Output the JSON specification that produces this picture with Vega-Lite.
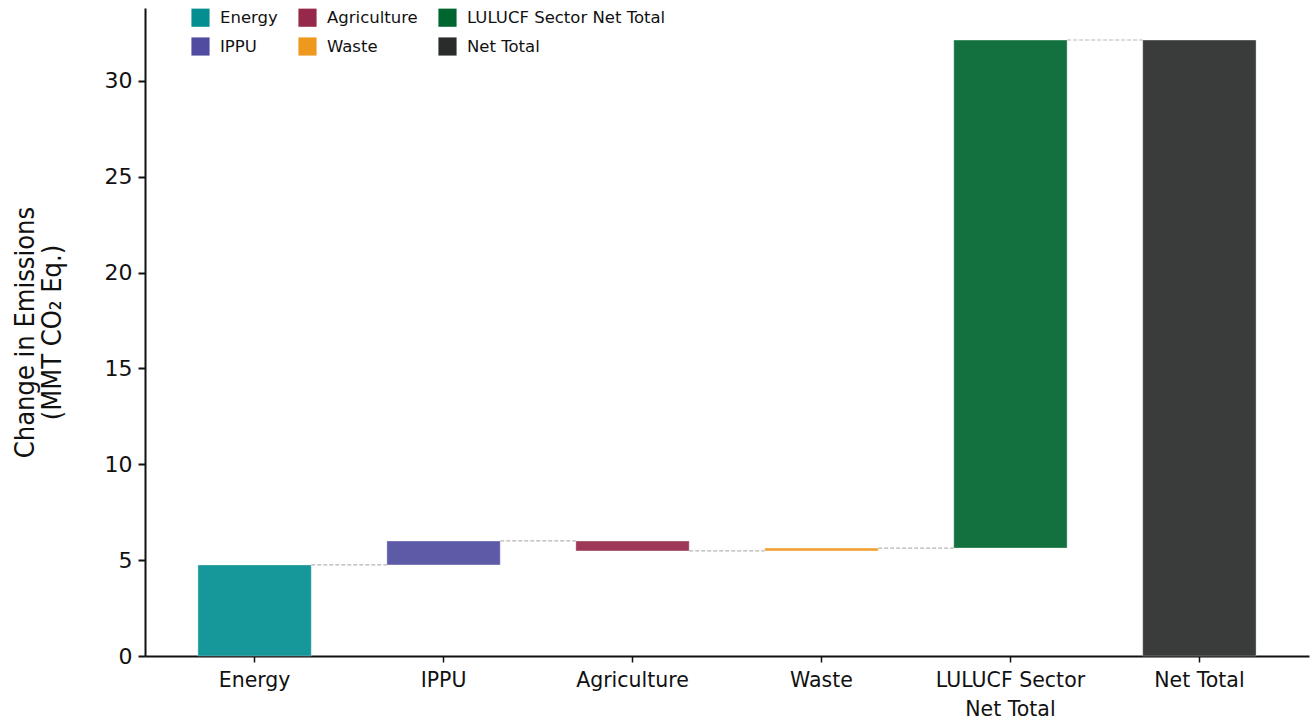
{
  "$schema": "https://vega.github.io/schema/vega-lite/v6.json",
  "width": 1164,
  "height": 648,
  "autosize": {"type": "none"},
  "padding": {"left": 145, "top": 8, "right": 3, "bottom": 69},
  "background": "white",
  "config": {
    "view": {"stroke": null},
    "font": "DejaVu Sans"
  },
  "datasets": {
    "bars": [
      {"category": "Energy", "start": 0, "end": 4.75},
      {"category": "IPPU", "start": 4.75, "end": 6.0},
      {"category": "Agriculture", "start": 6.0, "end": 5.48},
      {"category": "Waste", "start": 5.48, "end": 5.63},
      {"category": "LULUCF Sector Net Total", "start": 5.63, "end": 32.13},
      {"category": "Net Total", "start": 0, "end": 32.13}
    ],
    "links": [
      {"from": "Energy", "to": "IPPU", "level": 4.75},
      {"from": "IPPU", "to": "Agriculture", "level": 6.0},
      {"from": "Agriculture", "to": "Waste", "level": 5.48},
      {"from": "Waste", "to": "LULUCF Sector Net Total", "level": 5.63},
      {"from": "LULUCF Sector Net Total", "to": "Net Total", "level": 32.13}
    ]
  },
  "layer": [
    {
      "data": {"name": "links"},
      "mark": {"type": "rule", "color": "#b5b5b5", "strokeWidth": 1.2, "strokeDash": [4, 2]},
      "encoding": {
        "x": {"field": "from", "type": "nominal", "bandPosition": 1},
        "x2": {"field": "to", "bandPosition": 0},
        "y": {"field": "level", "type": "quantitative"}
      }
    },
    {
      "data": {"name": "bars"},
      "mark": {"type": "bar", "opacity": 0.92, "stroke": "#ffffff", "strokeWidth": 0.6, "strokeOpacity": 0.6},
      "encoding": {
        "x": {
          "field": "category", "type": "nominal",
          "scale": {
            "domain": ["Energy", "IPPU", "Agriculture", "Waste", "LULUCF Sector Net Total", "Net Total"],
            "paddingInner": 0.4, "paddingOuter": 0.28
          },
          "axis": {
            "title": null, "labelAngle": 0, "labelAlign": "center", "labelBaseline": "top",
            "labelFont": "DejaVu Sans", "labelFontSize": 20.5, "labelColor": "#111111",
            "labelPadding": 8, "domainColor": "#111111", "domainWidth": 2,
            "tickColor": "#111111", "tickWidth": 1.5, "tickSize": 6,
            "labelExpr": "datum.label == 'LULUCF Sector Net Total' ? ['LULUCF Sector', 'Net Total'] : datum.label",
            "labelLineHeight": 29
          }
        },
        "y": {
          "field": "start", "type": "quantitative",
          "scale": {"domain": [0, 33.8], "nice": false},
          "axis": {
            "title": ["Change in Emissions", "(MMT CO₂ Eq.)"],
            "titleFont": "DejaVu Sans Condensed", "titleFontSize": 27, "titleFontWeight": "normal",
            "titleColor": "#111111", "titlePadding": 38, "titleLineHeight": 27,
            "values": [0, 5, 10, 15, 20, 25, 30],
            "grid": false,
            "labelFont": "DejaVu Sans", "labelFontSize": 22, "labelColor": "#111111", "labelPadding": 6,
            "domainColor": "#111111", "domainWidth": 2,
            "tickColor": "#111111", "tickWidth": 2, "tickSize": 7
          }
        },
        "y2": {"field": "end"},
        "color": {
          "field": "category", "type": "nominal",
          "scale": {
            "domain": ["Energy", "Agriculture", "LULUCF Sector Net Total", "IPPU", "Waste", "Net Total"],
            "range": ["#038f91", "#96294a", "#00662f", "#504da0", "#ef981e", "#2a2b2b"]
          },
          "legend": {
            "title": null, "orient": "none", "legendX": 46, "legendY": 0,
            "direction": "horizontal", "columns": 3,
            "symbolType": "square", "symbolSize": 330, "symbolStrokeWidth": 0, "symbolOpacity": 1,
            "labelFont": "DejaVu Sans", "labelFontSize": 16.5, "labelColor": "#111111", "labelOffset": 10,
            "labelLimit": 400,
            "columnPadding": 20, "rowPadding": 10
          }
        }
      }
    }
  ]
}
